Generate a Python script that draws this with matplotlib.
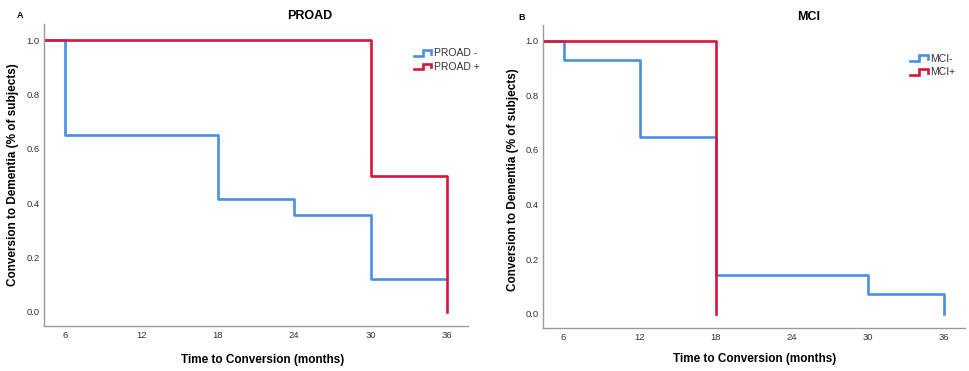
import numpy as np
import matplotlib
matplotlib.use("Agg")
import matplotlib.pyplot as plt
from matplotlib.legend_handler import HandlerBase
from matplotlib.lines import Line2D

plt.rcParams["font.family"] = ["Liberation Sans", "DejaVu Sans"]

# Kaplan-Meier style step data (time in months, proportion)
proad_neg_t = [0, 6, 18, 24, 30, 36]
proad_neg_y = [1.0, 0.65, 0.414, 0.356, 0.119, 0.119]
proad_pos_t = [0, 30, 36, 36]
proad_pos_y = [1.0, 0.5, 0.0, 0.0]

mci_neg_t = [0, 6, 12, 18, 30, 36]
mci_neg_y = [1.0, 0.93, 0.647, 0.141, 0.071, 0.0]
mci_pos_t = [0, 18, 18]
mci_pos_y = [1.0, 0.0, 0.0]

xticks = [6, 12, 18, 24, 30, 36]
yticks = [0.0, 0.2, 0.4, 0.6, 0.8, 1.0]

blue = "#4a8fe0"
red = "#d6163a"
spine_col = "#9a9a9a"


class StepHandler(HandlerBase):
    # draws the little step icon used in SPSS survival legends
    def create_artists(self, legend, orig, xd, yd, w, h, fontsize, trans):
        xs = np.array([0, 0.5, 0.5, 0.95, 0.95]) * w - xd
        ys = np.array([0.1, 0.1, 0.85, 0.85, 0.35]) * h - yd
        ln = Line2D(xs, ys, color=orig.get_color(), lw=orig.get_linewidth(),
                    solid_joinstyle="miter", transform=trans)
        return [ln]


fig = plt.figure(figsize=(9.69, 3.71), dpi=100)
ax1 = fig.add_axes([0.0454, 0.121, 0.4376, 0.814])
ax2 = fig.add_axes([0.560, 0.116, 0.436, 0.817])


def style(ax):
    ax.set_xlim(4.35, 37.66)
    ax.set_ylim(-0.053, 1.059)
    ax.set_xticks(xticks)
    ax.set_yticks(yticks)
    ax.set_yticklabels([f"{v:.1f}" for v in yticks])
    ax.tick_params(length=0, labelsize=6.8, labelcolor="#333333")
    ax.tick_params(axis="x", pad=3.5)
    ax.tick_params(axis="y", pad=3)
    for s in ["top", "right"]:
        ax.spines[s].set_visible(False)
    for s in ["left", "bottom"]:
        ax.spines[s].set_color(spine_col)
        ax.spines[s].set_linewidth(1.0)


style(ax1)
style(ax2)

l1, = ax1.step(proad_neg_t, proad_neg_y, where="post", color=blue, lw=1.9, label="PROAD -")
l2, = ax1.step(proad_pos_t, proad_pos_y, where="post", color=red, lw=1.9, label="PROAD +")

m1, = ax2.step(mci_neg_t, mci_neg_y, where="post", color=blue, lw=1.9, label="MCI-")
m2, = ax2.step(mci_pos_t, mci_pos_y, where="post", color=red, lw=1.9, label="MCI+")

leg_kw = dict(frameon=False, fontsize=7.5, handlelength=1.75, handletextpad=0.15,
              labelspacing=0.35, borderaxespad=0, borderpad=0,
              handler_map={Line2D: StepHandler()})
lg1 = ax1.legend(handles=[l1, l2], loc="upper left", bbox_to_anchor=(0.872, 0.92), **leg_kw)
lg2 = ax2.legend(handles=[m1, m2], loc="upper left", bbox_to_anchor=(0.87, 0.905), **leg_kw)
for lg in (lg1, lg2):
    for t in lg.get_texts():
        t.set_color("#333333")

# titles and labels
fig.text(0.320, 0.958, "PROAD", ha="center", va="center", fontsize=9, fontweight="bold")
fig.text(0.835, 0.953, "MCI", ha="center", va="center", fontsize=9, fontweight="bold")
fig.text(0.021, 0.958, "A", ha="center", va="center", fontsize=6.5, fontweight="bold")
fig.text(0.538, 0.953, "B", ha="center", va="center", fontsize=6.5, fontweight="bold")

fig.text(0.271, 0.030, "Time to Conversion (months)", ha="center", va="center",
         fontsize=8.5, fontweight="bold")
fig.text(0.779, 0.032, "Time to Conversion (months)", ha="center", va="center",
         fontsize=8.5, fontweight="bold")
fig.text(0.0135, 0.528, "Conversion to Dementia (% of subjects)", ha="center", va="center",
         rotation=90, fontsize=8.5, fontweight="bold")
fig.text(0.529, 0.515, "Conversion to Dementia (% of subjects)", ha="center", va="center",
         rotation=90, fontsize=8.5, fontweight="bold")

fig.savefig("out.png", dpi=100)
